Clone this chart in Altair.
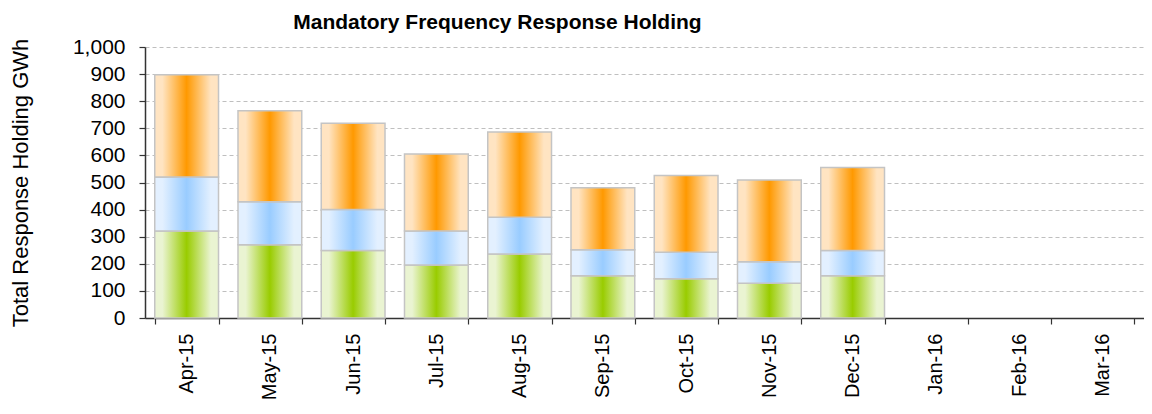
import altair as alt
import pandas as pd

months = ["Apr-15", "May-15", "Jun-15", "Jul-15", "Aug-15", "Sep-15",
          "Oct-15", "Nov-15", "Dec-15", "Jan-16", "Feb-16", "Mar-16"]
filled_months = months[:9]

series_names = ["Primary", "Secondary", "High"]
primary = [321, 270, 249, 196, 236, 156, 145, 128, 156]
secondary = [199, 159, 151, 125, 136, 96, 98, 80, 93]
high = [378, 336, 319, 284, 314, 229, 283, 301, 306]

rows = []
for i, m in enumerate(filled_months):
    for k, (name, vals) in enumerate(zip(series_names, [primary, secondary, high])):
        rows.append({"month": m, "series": name, "value": vals[i], "order": k})
df = pd.DataFrame(rows)

FONT = "Liberation Sans"


def grad(light, sat):
    return alt.Gradient(
        gradient="linear", x1=0, x2=1, y1=0, y2=0,
        stops=[
            alt.GradientStop(offset=0, color=light),
            alt.GradientStop(offset=0.12, color=light),
            alt.GradientStop(offset=0.5, color=sat),
            alt.GradientStop(offset=0.88, color=light),
            alt.GradientStop(offset=1, color=light),
        ],
    )


fills = {
    "Primary": grad("#EAF4D2", "#99CC00"),
    "Secondary": grad("#E3F0FF", "#99CCFF"),
    "High": grad("#FFE4C2", "#FF9900"),
}

base = alt.Chart(df).transform_stack(
    stack="value", groupby=["month"], as_=["y0", "y1"],
    sort=[alt.SortField("order", order="ascending")],
).encode(
    x=alt.X("month:N", sort=months,
            scale=alt.Scale(domain=months, paddingInner=0.234, paddingOuter=0.117),
            axis=alt.Axis(title=None, labelAngle=-90, labelFont=FONT, labelFontSize=20,
                          labelColor="#000000", labelPadding=9, tickSize=6,
                          tickBand="extent", tickColor="#333333", domainColor="#333333",
                          domainWidth=1.5, tickWidth=1.2, grid=False)),
    y=alt.Y("y0:Q",
            scale=alt.Scale(domain=[0, 1000], nice=False),
            axis=alt.Axis(title="Total Response  Holding  GWh", values=list(range(0, 1001, 100)),
                          format=",.0f", labelFont=FONT, labelFontSize=21, labelColor="#000000",
                          labelPadding=14, tickSize=6, tickColor="#333333",
                          domainColor="#333333", domainWidth=1.5, tickWidth=1.2,
                          titleFont=FONT, titleFontSize=22, titleFontWeight="normal",
                          titleColor="#000000", titlePadding=40,
                          grid=True, gridColor="#BFBFBF", gridDash=[4, 3], gridWidth=1)),
    y2="y1:Q",
)

layers = [
    base.transform_filter(alt.datum.series == name).mark_bar(
        fill=fills[name], stroke="#C4C4C4", strokeWidth=1.5
    )
    for name in series_names
]

chart = alt.layer(*layers).properties(
    width=999,
    height=271,
    title=alt.TitleParams(
        "Mandatory Frequency Response Holding",
        font=FONT, fontSize=21, fontWeight="bold", color="#000000",
        anchor="middle", frame="group", dx=-147, offset=-1,
    ),
    autosize=alt.AutoSizeParams(type="none"),
    padding={"left": 137, "top": 39, "right": 0, "bottom": 84},
).configure_view(stroke=None)

chart.save("out.html", embed_options={"renderer": "svg", "actions": False})
